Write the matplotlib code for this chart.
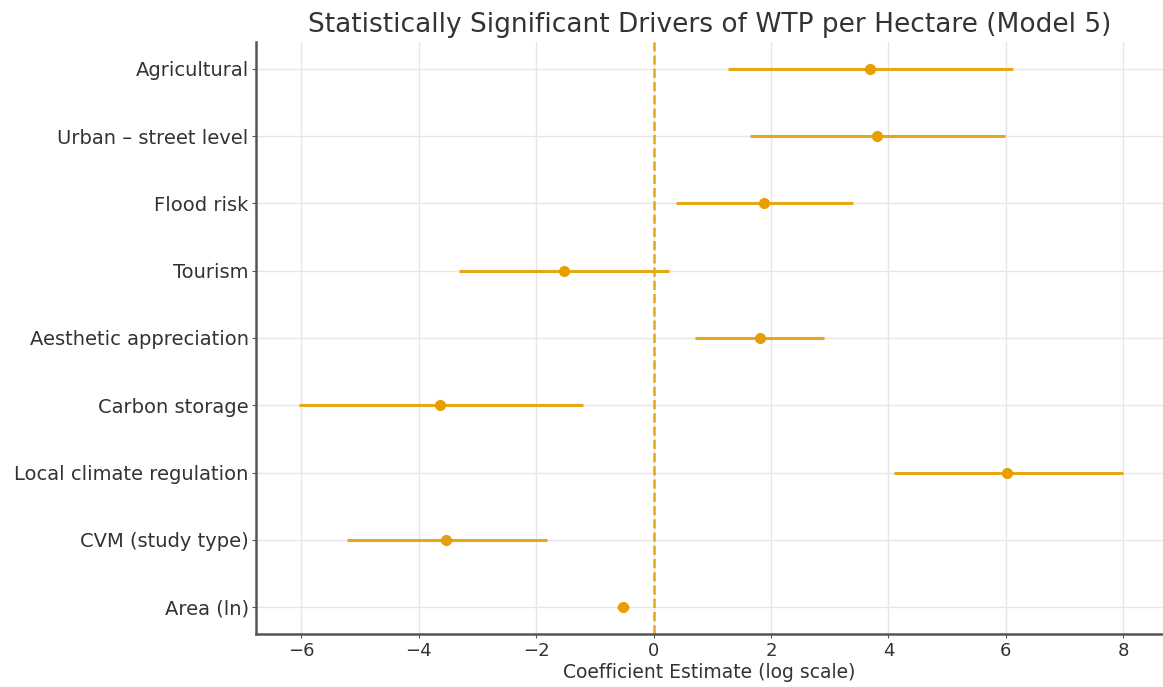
import matplotlib.pyplot as plt

labels = ["Agricultural", "Urban \u2013 street level", "Flood risk", "Tourism",
          "Aesthetic appreciation", "Carbon storage", "Local climate regulation",
          "CVM (study type)", "Area (ln)"]
coef = [3.68, 3.80, 1.89, -1.52, 1.81, -3.64, 6.03, -3.54, -0.52]
ci_low = [1.26, 1.64, 0.38, -3.31, 0.70, -6.04, 4.10, -5.23, -0.62]
ci_high = [6.13, 5.98, 3.40, 0.26, 2.90, -1.20, 7.99, -1.82, -0.42]


def plot_drivers():
    fig = plt.figure(figsize=(11.63, 6.87), dpi=100)
    ax = fig.add_axes([0.2198, 0.0772, 0.7802, 0.8617])

    ypos = list(range(len(labels)))[::-1]
    xerr = [[c - l for c, l in zip(coef, ci_low)],
            [h - c for c, h in zip(coef, ci_high)]]
    ax.errorbar(coef, ypos, xerr=xerr, fmt='o', color='#E69F00',
                ecolor='#E6A817', elinewidth=2.2, markersize=7, capsize=0, zorder=3)
    ax.axvline(0, color='#E6A817', linestyle='--', linewidth=1.8, zorder=2)

    ax.set_xlim(-6.78, 8.68)
    ax.set_yticks(ypos)
    ax.set_yticklabels(labels, fontsize=14, color='#333333')
    ax.tick_params(axis='y', length=3, pad=2, colors='#555555', labelcolor='#333333')
    ax.tick_params(axis='x', labelsize=13, length=3, pad=3, colors='#555555', labelcolor='#333333')
    ax.set_xlabel("Coefficient Estimate (log scale)", fontsize=13.5, labelpad=2, color='#333333')
    ax.set_title("Statistically Significant Drivers of WTP per Hectare (Model 5)",
                 fontsize=19, color='#333333', pad=7)
    ax.grid(True, color='#e6e6e6', linewidth=1)
    ax.set_axisbelow(True)
    for s in ['top', 'right']:
        ax.spines[s].set_visible(False)
    for s in ['left', 'bottom']:
        ax.spines[s].set_color('#555555')
        ax.spines[s].set_linewidth(1.8)

    plt.savefig('out.png', dpi=100)


if __name__ == '__main__':
    plot_drivers()
